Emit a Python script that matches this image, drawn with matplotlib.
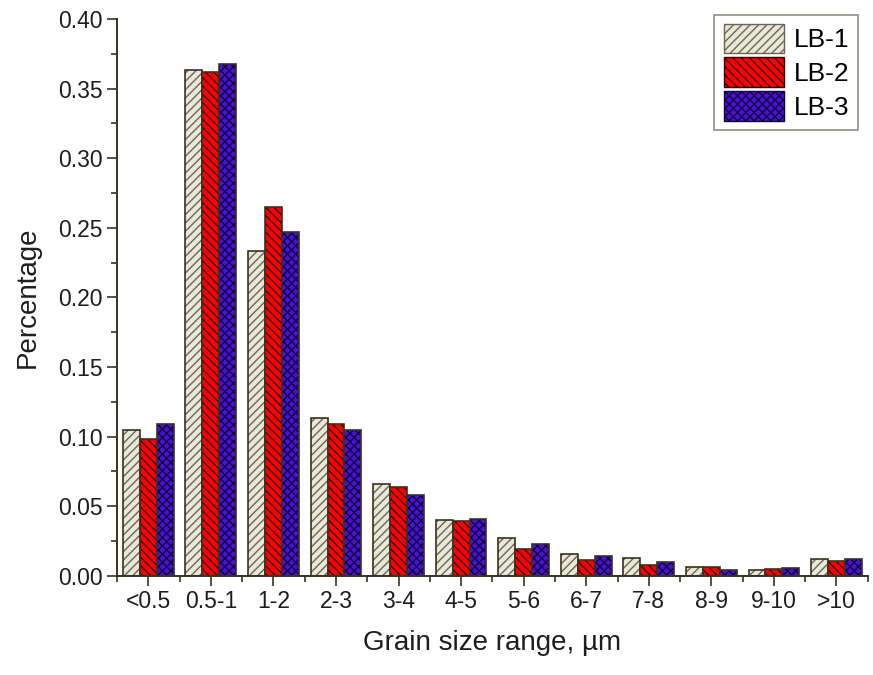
import numpy as np
import matplotlib
matplotlib.use('Agg')
import matplotlib.pyplot as plt
from matplotlib.ticker import MultipleLocator, FormatStrFormatter
from matplotlib.patches import Patch

categories = ['<0.5', '0.5-1', '1-2', '2-3', '3-4', '4-5', '5-6', '6-7', '7-8', '8-9', '9-10', '>10']
lb1 = [0.105, 0.363, 0.233, 0.113, 0.066, 0.040, 0.027, 0.016, 0.013, 0.006, 0.004, 0.012]
lb2 = [0.098, 0.362, 0.265, 0.109, 0.064, 0.039, 0.019, 0.011, 0.0075, 0.006, 0.005, 0.0105]
lb3 = [0.109, 0.3675, 0.247, 0.105, 0.058, 0.041, 0.023, 0.014, 0.010, 0.0043, 0.0058, 0.0122]
series_names = ['LB-1', 'LB-2', 'LB-3']

plt.rcParams['font.family'] = ['Liberation Sans', 'DejaVu Sans']
plt.rcParams['hatch.linewidth'] = 1.0

edge = '#38331f'
txt = '#1e1e1e'
fig = plt.figure(figsize=(8.73, 6.75), dpi=100)
ax = fig.add_axes([0.134, 0.147, 0.86, 0.825])

x = np.arange(len(categories))
w = 0.27
# (face, hatch, hatch colour)
styles = [('#e9e6da', '////', '#6b6652'), ('#ff0000', '\\\\\\\\', '#300000'), ('#4a10d8', 'xxxx', '#10003a')]
for i, (vals, name) in enumerate(zip([lb1, lb2, lb3], series_names)):
    fc, hatch, hc = styles[i]
    ax.bar(x + (i - 1) * w, vals, w, color=fc, edgecolor=hc, hatch=hatch, linewidth=0, label=name)
    ax.bar(x + (i - 1) * w, vals, w, color='none', edgecolor=edge, linewidth=1.2)

ax.set_xlim(-0.5, len(categories) - 0.5)
ax.set_ylim(0, 0.40)
ax.set_xticks(x)
ax.set_xticklabels(categories)
ax.xaxis.set_minor_locator(MultipleLocator(1, offset=0.5))
ax.yaxis.set_major_locator(MultipleLocator(0.05))
ax.yaxis.set_minor_locator(MultipleLocator(0.025))
ax.yaxis.set_major_formatter(FormatStrFormatter('%.2f'))
ax.tick_params(which='both', direction='out', color=edge, width=1.2, labelsize=16.5, labelcolor=txt)
ax.tick_params(which='major', length=7)
ax.tick_params(which='minor', length=4)
for s in ['top', 'right']:
    ax.spines[s].set_visible(False)
for s in ['left', 'bottom']:
    ax.spines[s].set_color(edge)
    ax.spines[s].set_linewidth(1.4)

ax.set_xlabel('Grain size range, µm', fontsize=20, color=txt, labelpad=12)
ax.set_ylabel('Percentage', fontsize=20, color=txt, labelpad=12)

handles = [Patch(facecolor=styles[i][0], edgecolor=styles[i][2], hatch=styles[i][1], label=series_names[i])
           for i in range(3)]
leg = ax.legend(handles=handles, loc='upper right', bbox_to_anchor=(0.998, 1.022), fontsize=19,
                fancybox=False, edgecolor='#77735f', handlelength=2.3, handleheight=1.35,
                handletextpad=0.35, labelspacing=0.15, borderpad=0.35, borderaxespad=0.3)
leg.get_frame().set_linewidth(1.2)
for p in leg.get_patches():
    p.set_linewidth(1.0)

fig.savefig('out.png', dpi=100)
